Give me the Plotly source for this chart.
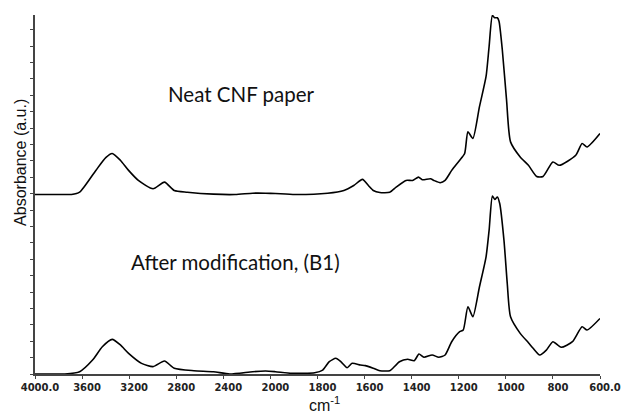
import plotly.graph_objects as go

# ---- data (wavenumber cm-1, relative absorbance in arbitrary units) ----
neat_wn = [4000, 3850, 3700, 3690, 3621, 3483, 3399, 3344, 3275, 3205, 3122, 2997, 2900, 2817,
           2706, 2484, 2300, 2151, 2041, 1979, 1896, 1757, 1688, 1646, 1609, 1584, 1563, 1535,
           1493, 1466, 1424, 1396, 1371, 1355, 1320, 1306, 1279, 1258, 1230, 1196, 1175, 1161,
           1140, 1112, 1084, 1071, 1057, 1047, 1036, 1029, 1015, 997, 980, 939, 904, 869, 842,
           800, 773, 703, 676, 655, 600]
neat_abs = [0.0, 0.0, 0.0, 0.0, 0.14, 1.47, 2.25, 2.50, 2.09, 1.47, 0.86, 0.35, 0.755, 0.245,
            0.14, 0.02, 0.0, 0.08, 0.08, 0.06, 0.0, 0.08, 0.245, 0.55, 0.92, 0.55, 0.245, 0.12,
            0.14, 0.45, 0.86, 0.86, 1.06, 0.90, 0.96, 0.86, 0.72, 0.86, 1.47, 2.09, 2.50, 3.82,
            3.42, 5.36, 7.20, 9.04, 10.92, 10.78, 10.78, 10.57, 8.83, 5.77, 3.21, 2.29, 1.78, 1.10, 1.10,
            1.98, 1.78, 2.39, 3.11, 2.90, 3.72]

mod_wn = [4000, 3850, 3746, 3621, 3511, 3428, 3344, 3275, 3205, 3095, 2997, 2900, 2817, 2650,
          2484, 2346, 2151, 2041, 1979, 1909, 1812, 1778, 1750, 1722, 1701, 1674, 1653, 1618,
          1597, 1563, 1535, 1493, 1480, 1452, 1417, 1389, 1369, 1348, 1313, 1285, 1258, 1230,
          1196, 1181, 1161, 1140, 1112, 1084, 1071, 1057, 1047, 1036, 1026, 1008, 994, 980, 939,
          904, 884, 856, 828, 800, 765, 717, 676, 655, 600]
mod_abs = [0.0, 0.0, 0.0, 0.14, 0.85, 1.66, 2.11, 1.77, 1.26, 0.65, 0.45, 0.79, 0.35, 0.20,
           0.14, 0.0, 0.14, 0.18, 0.14, 0.04, 0.08, 0.24, 0.75, 0.96, 0.75, 0.38, 0.65, 0.55,
           0.51, 0.35, 0.20, 0.20, 0.35, 0.75, 0.90, 0.81, 1.22, 1.02, 1.16, 1.02, 1.16, 1.97,
           2.58, 2.68, 4.10, 3.49, 5.32, 7.15, 8.78, 10.85, 10.65, 10.80, 10.40, 8.17, 5.53, 3.49, 2.48,
           1.91, 1.57, 1.16, 1.46, 1.97, 1.63, 1.97, 2.88, 2.68, 3.39]

neat_offset = 10.95

tick_wn = [4000, 3600, 3200, 2800, 2400, 2000, 1800, 1600, 1400, 1200, 1000, 800, 600]
tick_text = ["4000.0", "3600", "3200", "2800", "2400", "2000", "1800", "1600", "1400",
             "1200", "1000", "800", "600.0"]


# piecewise-linear wavenumber scale (scale change at 2000 cm-1), as in the instrument plot
def to_axis(wn):
    if wn >= 2000:
        return (4000 - wn) / 400.0
    return 5 + (2000 - wn) / 200.0


fig = go.Figure()
fig.add_trace(go.Scatter(
    x=[to_axis(w) for w in neat_wn], y=[a + neat_offset for a in neat_abs],
    mode="lines", line=dict(color="black", width=1.6, shape="spline", smoothing=0.6),
    showlegend=False, hoverinfo="skip"))
fig.add_trace(go.Scatter(
    x=[to_axis(w) for w in mod_wn], y=mod_abs,
    mode="lines", line=dict(color="black", width=1.6, shape="spline", smoothing=0.6),
    showlegend=False, hoverinfo="skip"))

fig.update_layout(
    width=633, height=415,
    margin=dict(l=35, r=22, t=15, b=41),
    paper_bgcolor="white", plot_bgcolor="white",
    xaxis=dict(range=[0, 12], tickvals=[to_axis(w) for w in tick_wn], ticktext=tick_text,
               showgrid=False, zeroline=False, showline=True, linecolor="#444", linewidth=1.5,
               ticks="outside", ticklen=3, tickcolor="#444", ticklabelshift=5,
               tickfont=dict(family="DejaVu Sans", size=10, color="#222", weight="bold")),
    yaxis=dict(range=[0, 21.9], tickvals=list(range(0, 22)), showticklabels=False,
               showgrid=False, zeroline=False, showline=True, linecolor="#444", linewidth=1.5,
               ticks="outside", ticklen=3, tickcolor="#444"),
    annotations=[
        dict(text="Neat CNF paper", xref="paper", yref="paper", x=0.2316, y=0.78,
             xanchor="left", yanchor="middle", showarrow=False,
             font=dict(family="Lato", size=20.5, color="#111")),
        dict(text="After modification, (B1)", xref="paper", yref="paper", x=0.1658, y=0.312,
             xanchor="left", yanchor="middle", showarrow=False,
             font=dict(family="Lato", size=20.5, color="#111")),
        dict(text="cm<sup>-1</sup>", xref="paper", yref="paper", x=0.512, y=0, yshift=-42,
             xanchor="center", yanchor="bottom", showarrow=False,
             font=dict(family="Liberation Sans", size=16, color="#111")),
        dict(text="Absorbance (a.u.)", xref="paper", yref="paper", x=0, xshift=-14, y=0.588,
             xanchor="center", yanchor="middle", textangle=-90, showarrow=False,
             font=dict(family="Liberation Sans", size=16, color="#111")),
    ],
)

fig.write_html("out.html")
